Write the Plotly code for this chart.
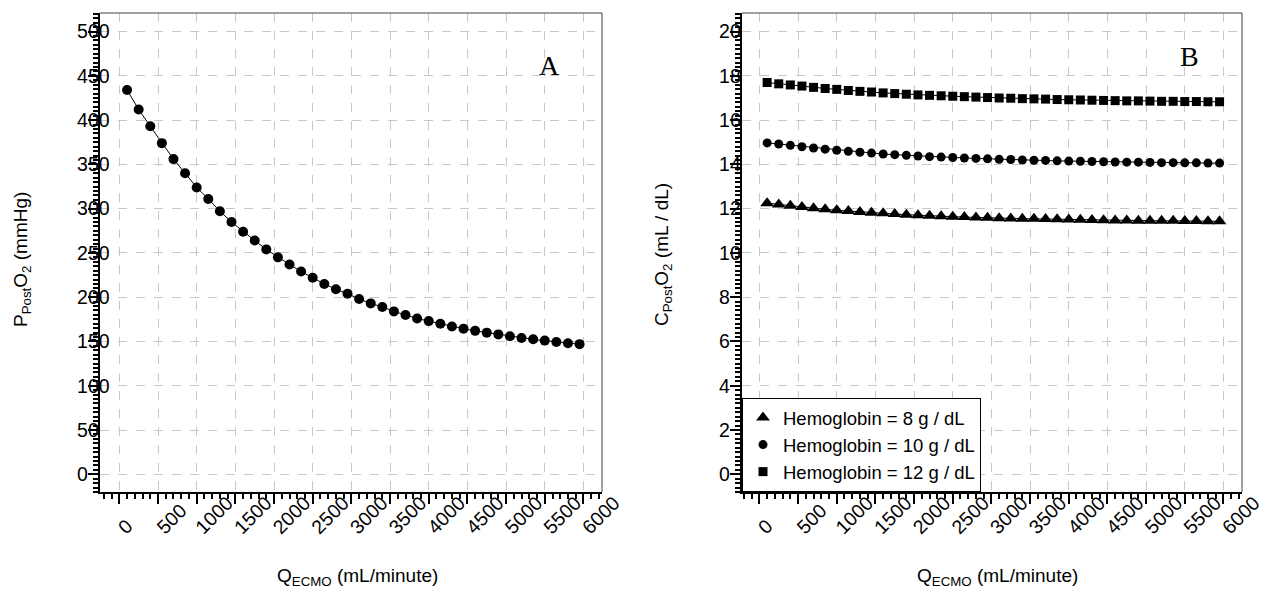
import plotly.graph_objects as go

# ECMO blood flow (mL/minute)
flow_ml_min = [100, 250, 400, 550, 700, 850, 1000, 1150, 1300, 1450,
               1600, 1750, 1900, 2050, 2200, 2350, 2500, 2650, 2800, 2950,
               3100, 3250, 3400, 3550, 3700, 3850, 4000, 4150, 4300, 4450,
               4600, 4750, 4900, 5050, 5200, 5350, 5500, 5650, 5800, 5950]

# Post-oxygenator PO2 (mmHg)
p_post_o2 = [434, 412, 393, 374, 356, 340, 324, 311, 297, 285,
             274, 264, 254, 245, 237, 229, 222, 215, 209, 204,
             198, 193, 189, 184, 180, 176, 173, 170, 167, 164.5,
             162, 160, 158, 156, 154, 152.5, 151, 149.5, 148, 147]

# Post-oxygenator O2 content (mL/dL) by hemoglobin level
c_post_hb8 = [12.25, 12.19, 12.13, 12.07, 12.02, 11.97, 11.93, 11.89, 11.85, 11.82,
              11.79, 11.76, 11.73, 11.70, 11.68, 11.66, 11.64, 11.62, 11.60, 11.59,
              11.57, 11.56, 11.55, 11.54, 11.53, 11.52, 11.51, 11.50, 11.49, 11.48,
              11.47, 11.47, 11.46, 11.46, 11.45, 11.45, 11.44, 11.44, 11.43, 11.43]
c_post_hb10 = [14.97, 14.92, 14.86, 14.80, 14.74, 14.69, 14.64, 14.59, 14.55, 14.51,
               14.47, 14.44, 14.41, 14.38, 14.35, 14.33, 14.31, 14.29, 14.27, 14.25,
               14.23, 14.22, 14.20, 14.19, 14.18, 14.16, 14.15, 14.14, 14.13, 14.12,
               14.11, 14.10, 14.10, 14.09, 14.08, 14.08, 14.07, 14.07, 14.06, 14.06]
c_post_hb12 = [17.70, 17.64, 17.59, 17.54, 17.48, 17.43, 17.39, 17.34, 17.30, 17.27,
               17.23, 17.20, 17.17, 17.14, 17.12, 17.10, 17.08, 17.06, 17.04, 17.02,
               17.00, 16.99, 16.97, 16.96, 16.95, 16.93, 16.92, 16.91, 16.90, 16.89,
               16.88, 16.87, 16.87, 16.86, 16.85, 16.85, 16.84, 16.84, 16.83, 16.83]

hb_labels = ["Hemoglobin = 8 g / dL", "Hemoglobin = 10 g / dL", "Hemoglobin = 12 g / dL"]
hb_symbols = ["triangle-up", "circle", "square"]
hb_sizes = [12, 9, 9]

W, H = 1267, 589
FONT = "Liberation Sans, Arial, sans-serif"
SERIF = "Liberation Serif, Times New Roman, serif"


def px_x(v):
    return v / W


def px_y(v):
    return 1 - v / H


fig = go.Figure()

# Panel A
fig.add_trace(go.Scatter(
    x=flow_ml_min, y=p_post_o2, mode="lines+markers",
    line=dict(color="black", width=1),
    marker=dict(symbol="circle", size=10, color="black"),
    xaxis="x", yaxis="y", showlegend=False,
))

# Panel B: connecting lines, then markers carrying the legend
for series in (c_post_hb8, c_post_hb10, c_post_hb12):
    fig.add_trace(go.Scatter(
        x=flow_ml_min, y=series, mode="lines",
        line=dict(color="black", width=1),
        xaxis="x2", yaxis="y2", showlegend=False, hoverinfo="skip",
    ))
for series, name, sym, sz in zip((c_post_hb8, c_post_hb10, c_post_hb12),
                                 hb_labels, hb_symbols, hb_sizes):
    fig.add_trace(go.Scatter(
        x=flow_ml_min, y=series, mode="markers", name=name,
        marker=dict(symbol=sym, size=sz, color="black"),
        xaxis="x2", yaxis="y2",
    ))

tick_font = dict(family=FONT, size=19.5, color="black")

xaxis_common = dict(
    tick0=0, dtick=500, automargin=False,
    showgrid=True, gridcolor="#c8c8c8", gridwidth=1, griddash="dash",
    zeroline=False, showline=True, linecolor="black", linewidth=2,
    ticks="outside", ticklen=10, tickwidth=1.5, tickcolor="black",
    minor=dict(dtick=100, ticks="outside", ticklen=5, tickwidth=1.5,
               tickcolor="black", showgrid=False),
    tickangle=-45, tickfont=tick_font,
    ticklabelposition="inside", ticklabelstandoff=-49, ticklabeloverflow="allow",
)

yaxis_common = dict(
    automargin=False,
    showgrid=True, gridcolor="#c8c8c8", gridwidth=1, griddash="dash",
    zeroline=False, showline=True, linecolor="black", linewidth=2,
    ticks="outside", ticklen=10, tickwidth=1.5, tickcolor="black",
    tickfont=tick_font,
    ticklabelposition="inside", ticklabelstandoff=-22, ticklabeloverflow="allow",
)

ydom = [px_y(492), px_y(13)]

fig.update_layout(
    width=W, height=H,
    margin=dict(l=0, r=0, t=0, b=0),
    paper_bgcolor="white", plot_bgcolor="white",
    xaxis=dict(domain=[px_x(100), px_x(602)], anchor="y", range=[-250, 6240],
               **xaxis_common),
    yaxis=dict(domain=ydom, anchor="x", range=[-20, 521], tick0=0, dtick=50,
               minor=dict(dtick=5, ticks="outside", ticklen=5, tickwidth=1.5,
                          tickcolor="black", showgrid=False),
               **yaxis_common),
    xaxis2=dict(domain=[px_x(742), px_x(1242)], anchor="y2", range=[-225, 6240],
                **xaxis_common),
    yaxis2=dict(domain=ydom, anchor="x2", range=[-0.8, 20.84], tick0=0, dtick=2,
                minor=dict(dtick=0.2, ticks="outside", ticklen=5, tickwidth=1.5,
                           tickcolor="black", showgrid=False),
                **yaxis_common),
    legend=dict(
        x=px_x(742), y=px_y(492), xanchor="left", yanchor="bottom",
        bgcolor="white", bordercolor="black", borderwidth=1,
        font=dict(family=FONT, size=18.5, color="black"),
        tracegroupgap=0,
    ),
    showlegend=True,
)

# Thin top/right frame lines for both panels
frame = dict(color="#404040", width=1)
shapes = []
for left, right in ((100, 602), (742, 1242)):
    shapes.append(dict(type="line", xref="paper", yref="paper",
                       x0=px_x(left), x1=px_x(right), y0=px_y(13), y1=px_y(13),
                       line=frame, layer="above"))
    shapes.append(dict(type="line", xref="paper", yref="paper",
                       x0=px_x(right), x1=px_x(right), y0=px_y(13), y1=px_y(492),
                       line=frame, layer="above"))
# White panels behind the panel letters
shapes.append(dict(type="rect", xref="paper", yref="paper",
                   x0=px_x(525), x1=px_x(575), y0=px_y(85), y1=px_y(33),
                   fillcolor="white", line=dict(width=0), layer="between"))
shapes.append(dict(type="rect", xref="paper", yref="paper",
                   x0=px_x(1157), x1=px_x(1225), y0=px_y(86), y1=px_y(26),
                   fillcolor="white", line=dict(width=0), layer="between"))
fig.update_layout(shapes=shapes)

title_font = dict(family=FONT, size=19, color="black")
annotations = [
    dict(text="A", x=px_x(549), y=px_y(65), xref="paper", yref="paper",
         showarrow=False, font=dict(family=SERIF, size=28, color="black"),
         xanchor="center", yanchor="middle"),
    dict(text="B", x=px_x(1189), y=px_y(56), xref="paper", yref="paper",
         showarrow=False, font=dict(family=SERIF, size=28, color="black"),
         xanchor="center", yanchor="middle"),
    dict(text="P<sub>Post</sub>O<sub>2</sub> (mmHg)", x=px_x(22), y=px_y(260),
         xref="paper", yref="paper", showarrow=False, textangle=-90,
         font=title_font, xanchor="center", yanchor="middle"),
    dict(text="C<sub>Post</sub>O<sub>2</sub> (mL / dL)", x=px_x(663), y=px_y(255),
         xref="paper", yref="paper", showarrow=False, textangle=-90,
         font=title_font, xanchor="center", yanchor="middle"),
    dict(text="Q<sub>ECMO</sub> (mL/minute)", x=px_x(357), y=px_y(577),
         xref="paper", yref="paper", showarrow=False,
         font=title_font, xanchor="center", yanchor="middle"),
    dict(text="Q<sub>ECMO</sub> (mL/minute)", x=px_x(997), y=px_y(577),
         xref="paper", yref="paper", showarrow=False,
         font=title_font, xanchor="center", yanchor="middle"),
]
fig.update_layout(annotations=annotations)

fig.write_html("out.html")
